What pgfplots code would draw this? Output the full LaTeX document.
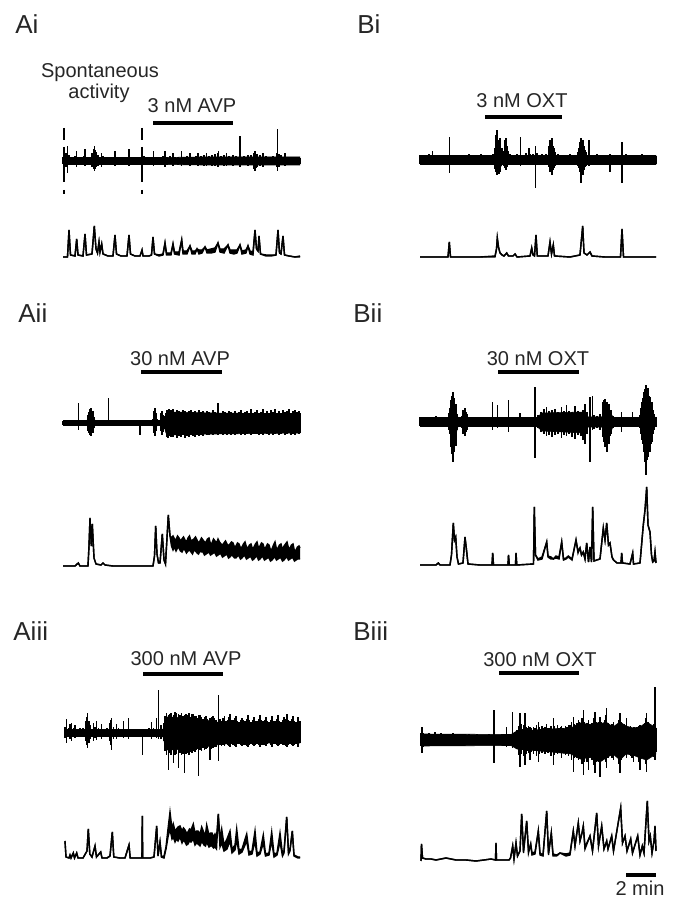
\documentclass[border=0pt]{standalone}
\usepackage{pgfplots}
\usepackage{pgfplotstable}
\pgfplotsset{compat=1.18}
\usepgfplotslibrary{fillbetween}
\usepackage{fontspec}
\setmainfont{Liberation Sans}

% ---------- raw traces: spike tables (t = px from trace start; lo/hi = excursion below/above baseline, px)
\pgfplotstableread{
t lo hi
0 -3 4
1 -12 10
3 -6 8
4.7 -12 15
6 -4 6
9 -3 4
12 -4 5
13.7 -6 10
15 -3 4
18 -3 3
21 -4 5
22 -5 12
23 -3 4
26 -3 3
29 -6 8
30.3 -8 12
31.3 -10 15
32.2 -8 11
33 -6 9
35 -5 6
38.7 -6 8
40 -4 5
44 -3 3
48 -3 4
52 -5 10
54 -3 3
58 -3 4
62 -3 3
66 -5 12
68 -3 3
72 -3 4
76 -4 4
78.5 -6 9
79.3 -8 13
81 -4 5
85 -3 4
90.3 -5 10
92 -3 4
96 -4 4
100 -4 5
102 -6 10
104 -4 4
107 -3 5
110 -5 8
112 -3 4
115 -4 4
118.7 -5 10
121 -4 4
124 -4 5
127 -5 8
130 -4 4
133 -4 5
135 -5 8
138 -4 5
141 -5 6
143.7 -5 8
146 -4 5
149 -5 6
152 -5 7
154.5 -6 8
155.3 -6 10
158 -4 5
161 -5 6
163.7 -5 8
166 -4 5
170 -5 6
173 -4 5
177 -6 25
181 -4 5
185 -5 6
188 -4 6
191 -8 8
192 -10 10
193 -7 7
194 -6 7
197 -5 6
200 -6 8
203 -4 5
207 -4 4
210 -4 5
213.5 -6 8
214.7 -10 32
216 -6 7
218 -4 6
222 -5 8
225 -4 4
229 -3 4
233 -4 4
237 -3 3
}\AiRaw
\pgfplotstableread{
t lo hi
0 -3.5 3.5
100 -3.5 3.5
140 -4 4
237 -4 4
}\AiCore

\pgfplotstableread{
t lo hi
0 -4 5
3 -5 4
6 -4 5
9 -4 6
12.7 -5 9
14 -4 5
17 -5 5
21 -4 5
25 -5 4
29.3 -13 23
33 -4 5
37 -5 4
41 -4 5
45 -5 5
49 -4 6
53 -4 5
57 -5 5
61 -4 6
65 -5 5
69 -4 5
73 -5 6
75 -9 12
76 -12 25
77 -15 30
78 -10 20
79 -14 18
80 -12 22
81 -6 10
82 -5 12
84 -6 9
85 -8 20
86 -10 22
87 -7 14
88 -5 9
90 -4 6
94 -5 5
97 -4 6
100.7 -6 23
104 -5 5
106 -4 7
109 -5 12
110 -5 6
113 -5 6
115.2 -28 14
117 -5 7
119 -5 5
122 -4 6
126 -5 6
129 -7 14
130 -12 20
131 -10 16
132 -15 22
133 -10 14
134 -8 12
135 -6 8
138 -5 6
142 -4 5
146 -5 5
150 -4 6
154 -5 5
158 -6 8
159 -8 12
160 -12 18
161 -23 22
162 -15 16
163 -15 20
164 -10 14
165 -7 10
166 -6 8
169 -6 20
173 -4 5
177 -5 6
181 -4 5
185 -5 5
190 -12 6
194 -4 5
198 -5 5
202 -23 18
206 -4 6
210 -5 5
214 -4 5
218 -5 5
222 -4 6
226 -5 5
230 -4 5
233 -5 5
236 -4 4
}\BiRaw
\pgfplotstableread{
t lo hi
0 -4.5 4.5
74 -4.5 4.5
77 -10 12
80 -8 10
82 -4.5 4.5
84 -4.5 4.5
86 -7 10
88 -4.5 4.5
129 -4.5 4.5
132 -9 10
134 -4.5 4.5
159 -4.5 4.5
161.5 -11 11
165 -4.5 4.5
236 -4.5 4.5
}\BiCore

\pgfplotstableread{
t lo hi
0 -2 2
5 -3 3
10 -2 2
15.3 -7 20
20 -2 2
24 -3 3
25 -8 8
26 -10 11
27 -12 14
28 -13 15
29 -10 9
30 -10 12
31 -5 6
34 -2 2
38 -2 3
42 -2 2
45.3 -3 25
50 -2 3
55 -2 2
60 -2 2
65 -2 3
70 -2 2
77 -12 2
82 -2 2
87 -2 3
90 -3 4
91 -10 12
92 -13 15
93 -8 10
94 -3 4
96 -3 3
98 -8 10
99 -12 12
100 -9 8
101 -6 7
103 -8 10
104 -14 13
105 -15 12
106 -13 14
107 -12 10
108 -14 13
110 -14 14
112 -12 11
114 -15 13
116 -13 12
118 -14 11
120 -12 13
122 -15 12
124 -13 10
126 -14 12
128 -12 13
130 -13 11
132 -14 12
134 -12 10
136 -13 13
138 -12 11
140 -13 12
142 -11 10
144 -12 12
146 -12 11
148 -11 10
150 -12 13
152 -11 11
155 -12 20
158 -11 10
160 -12 12
162 -11 11
164 -12 10
166 -11 12
168 -12 11
170 -10 10
172 -12 12
174 -11 10
176 -10 11
178 -12 13
180 -11 10
182 -12 11
184 -11 12
186 -10 10
188 -12 14
190 -11 10
192 -11 11
194 -10 13
196 -12 10
198 -11 11
200 -12 14
202 -10 10
204 -11 12
206 -12 10
208 -10 13
210 -12 11
212 -11 14
214 -10 10
216 -12 12
218 -11 10
220 -10 13
222 -12 11
224 -11 12
226 -10 14
228 -12 10
230 -11 12
232 -12 13
234 -10 11
236 -11 12
237 -10 10
}\AiiRaw
\pgfplotstableread{
t lo hi
0 -2.5 2.5
24 -2.5 2.5
27 -9 10
30 -7 8
32 -2.5 2.5
90 -2.5 2.5
92 -9 10
94 -2.5 2.5
97 -2.5 2.5
99 -7 7
101 -3 3
103 -10 9
106 -12 11
150 -11 10
237 -10 9
}\AiiCore

\pgfplotstableread{
t lo hi
0 -4 5
4 -5 4
8 -4 5
12 -5 5
16 -4 6
20 -5 4
24 -4 5
28 -5 5
29 -8 9
30 -12 14
31 -25 22
32 -32 26
33 -40 30
34 -30 24
35 -20 15
36 -24 18
37 -8 8
39 -5 5
42 -6 6
43 -12 12
44 -10 10
45 -14 14
46 -10 10
47 -8 8
48 -5 5
52 -4 5
56 -5 4
60 -4 5
64 -5 5
68 -4 5
72.7 -8 20
77.3 -6 17
82 -4 5
88.3 -10 22
93 -4 5
100 -5 9
105 -4 5
110 -5 5
115 -36 35
118 -6 7
121 -10 10
124 -12 13
126.7 -14 15
129 -13 11
132 -15 12
135 -13 13
138 -12 10
141.7 -16 15
144 -13 11
146.7 -14 17
149 -12 11
152 -15 10
155 -17 16
158 -13 11
161 -14 10
163 -18 12
165 -22 18
167 -12 10
170 -40 25
172.7 -8 26
174 -7 7
177 -6 6
180 -8 8
183 -15 20
184 -20 22
185 -25 23
186 -22 16
187 -30 20
188 -18 15
189 -22 18
190 -14 12
191 -12 12
193 -6 6
197 -5 5
201.7 -10 10
206 -4 5
210 -5 5
212.7 -5 10
217 -5 5
220 -6 7
221 -12 14
222 -18 20
223 -22 24
224 -30 30
225 -40 33
226 -53 37
227 -38 30
228 -35 34
229 -28 26
230 -30 25
231 -22 18
232 -20 20
233 -12 12
234 -8 8
236 -5 5
}\BiiRaw
\pgfplotstableread{
t lo hi
0 -4.5 4.5
29 -4.5 4.5
32 -20 17
36 -12 10
38 -4.5 4.5
43 -4.5 4.5
45 -10 10
47 -4.5 4.5
117 -4.5 4.5
122 -9 9
165 -11 10
168 -5 5
182 -5 5
186 -17 15
190 -12 11
193 -4.5 4.5
220 -4.5 4.5
224 -22 20
230 -18 16
234 -5 5
236 -4.5 4.5
}\BiiCore

\pgfplotstableread{
t lo hi
0 -5 6
1.7 -10 14
3.5 -4 5
5 -6 9
6.7 -8 10
8.5 -4 5
10 -5 8
12 -4 4
15 -3 5
18 -4 5
20.5 -8 12
21.5 -12 16
22.7 -15 20
24 -10 12
25 -6 8
28.3 -8 10
30 -5 6
31.7 -7 12
33.5 -4 5
36.7 -6 9
38.5 -3 4
42 -4 5
44.5 -8 10
45.5 -12 13
46.7 -17 15
48.5 -6 6
51.7 -6 9
53.5 -4 5
56 -3 4
58.3 -5 12
60 -4 4
63.3 -6 15
65 -3 4
69 -3 3
73 -3 3
77.3 -22 4
81 -3 3
84 -4 5
86.7 -6 11
88.5 -4 5
91.7 -5 15
93.3 -6 43
96 -6 8
98.5 -8 10
100 -18 17
101.5 -22 20
103.3 -37 18
104.5 -20 19
106 -22 20
108.3 -30 18
110 -22 21
111.5 -21 20
113.3 -35 19
115 -20 18
116.5 -22 20
118 -21 17
119.3 -40 18
121 -21 19
122.5 -20 18
124 -22 20
125.5 -19 16
127 -20 19
128.5 -18 19
130 -19 17
131.5 -17 17
133.3 -43 18
135 -17 18
136.5 -18 16
138 -15 14
139.5 -17 16
141 -16 17
142.5 -15 14
145 -27 15
146.5 -16 16
148 -15 17
149.5 -14 15
151 -14 13
153.3 -28 38
155 -12 14
156.5 -13 12
158 -12 15
159.5 -13 17
161 -11 12
162.5 -12 13
164 -13 16
165 -14 19
166.5 -11 13
168 -12 13
169.5 -13 15
171 -14 17
172.5 -11 12
174 -11 11
175.5 -12 13
177 -13 15
178.5 -12 13
180 -12 12
181.5 -13 14
183 -14 18
184.5 -12 13
186 -11 11
187.5 -12 13
189 -13 16
190.5 -12 12
192 -11 12
193.5 -12 14
195 -14 18
196.5 -12 13
198 -12 12
199.5 -12 13
201 -13 16
202.5 -11 12
204 -10 11
205.5 -12 13
207 -14 17
208.5 -11 12
210 -11 12
211.5 -12 14
213 -13 18
214.5 -12 12
216 -11 11
217.5 -12 13
219 -12 16
220.5 -13 14
222 -14 19
223.5 -12 13
225 -11 12
226.5 -12 14
228 -13 17
229.5 -12 12
231 -11 11
233 -14 16
235 -10 12
}\AiiiRaw
\pgfplotstableread{
t lo hi
0 -3.5 3.5
98 -3.5 3.5
101 -17 16
130 -16 15
150 -12 11
170 -10 10
235 -10 10
}\AiiiCore

\pgfplotstableread{
t lo hi
0 -6 7
1 -13 13
2 -7 7
5 -6 6
8 -5 7
11 -6 6
14 -5 8
17 -6 6
20 -5 7
24 -6 6
28 -5 6
32 -5 7
36 -6 5
40 -5 6
44 -5 5
48 -5 6
52 -4 5
56 -5 6
60 -5 5
64 -4 5
68 -5 6
73 -23 30
77 -5 5
81 -5 6
85.7 -7 13
89 -5 6
91.7 -8 28
94 -7 8
96 -9 10
97.5 -15 14
99 -27 27
100 -14 16
101 -10 11
102.5 -16 15
104 -25 27
105 -14 13
106 -11 12
107.5 -13 14
109 -20 13
110 -12 12
111 -10 10
112.5 -14 13
114 -11 12
115.5 -16 15
117.3 -22 18
118.5 -14 13
119.5 -11 11
121 -13 14
122 -10 12
124 -14 13
125.7 -12 16
127 -13 12
128 -11 12
130 -16 14
132.3 -25 22
133.5 -15 14
135 -11 11
136.5 -14 15
138 -12 12
139.5 -13 13
140.7 -18 14
142 -13 12
143 -10 11
144.5 -15 14
146 -12 13
147.5 -16 15
149 -14 15
150.5 -20 18
152.3 -32 23
153.5 -18 16
155 -15 14
156 -18 17
157.3 -20 20
158.5 -17 18
160 -16 15
161 -24 22
162.3 -35 30
163.5 -22 18
165 -17 14
166 -22 17
167.3 -30 20
168.5 -18 16
170 -15 15
171 -20 17
172.5 -25 22
174 -33 28
175.3 -22 18
176.5 -16 15
178 -22 18
179 -37 23
180.5 -20 18
182 -14 14
183.5 -18 20
184.5 -22 25
185.7 -28 32
187 -18 17
188 -13 13
189.5 -15 15
191 -18 16
192.3 -20 18
193.5 -15 14
195 -12 12
196.5 -16 15
198 -24 20
199 -33 27
200.5 -20 18
202 -14 13
203.5 -15 16
205.7 -18 22
207 -14 13
208 -12 11
209.5 -16 14
211 -18 12
212.3 -22 13
213.5 -16 13
215 -14 12
216.5 -16 13
218 -22 14
219 -30 15
220.5 -18 13
222 -13 12
223.5 -18 17
224.5 -24 22
225.7 -32 27
227 -18 18
228 -14 14
229.5 -16 15
231 -15 14
232.5 -17 16
234 -20 53
235 -12 12
}\BiiiRaw
\pgfplotstableread{
t lo hi
0 -6 6
90 -5.5 5.5
96 -9 9
130 -12 11
150 -14 12
157 -18 16
162 -20 18
167 -16 14
174 -20 18
179 -22 16
185 -18 18
192 -14 13
199 -20 18
205 -14 14
212 -15 12
219 -18 13
225.7 -20 18
235 -14 12
}\BiiiCore

% ---------- integrated traces (lo/hi = lower/upper edge of the line above baseline, px)
\pgfplotstableread{
t lo hi
0 0 0
4.5 0 0
6 27 27
7.5 2 2
12 1 1
13.7 18 18
15 2 2
20 1 1
22 23 23
23.5 2 2
29 3 3
31.3 31 31
33 8 8
34.5 4 4
36 15 15
37 5 5
38.7 13 13
40 3 3
45 1 1
50 1 1
52 22 22
53.5 3 3
58 1 1
64 1 1
66 22 22
67.5 3 3
72 1 1
77 1 1
79 7 7
80 1 1
86 1 1
88.5 2 2
90 20 20
91.5 3 3
96 1 2
100 2 3
102 14 14
103.5 2 4
108 2 4
110 13 13
111.5 3 5
116 2 5
118.7 17 17
120 3 6
124 3 6
127 11 11
129 3 6
132 3 6
134 8 8
136 3 7
139 4 7
142 10 10
144 4 7
148 4 8
152 5 9
155 14 14
157 5 8
161 4 8
165 12 12
167 4 7
171 3 7
174 4 7
177 12 12
179 3 6
183 4 7
185 11 11
187 3 6
190 2 5
192 27 27
193.5 8 8
195 6 6
196 21 21
197.5 3 3
203 1 2
208 1 2
213 2 2
215 27 27
216.5 4 4
218 3 3
220 21 21
221.5 2 2
226 1 1
232 0 0
237 0 1
}\AiInt

\pgfplotstableread{
t lo hi
0 0 0
28 0 0
29.3 15 15
30.5 0 0
60 0 0
75 0 1
76.5 8 8
77.3 19 19
78.5 10 10
80 4 4
82 2 2
84 1 1
86.7 4 4
88.5 1 1
93 1 1
95 3 3
97 0 0
110 1 1
111.7 9 9
113 2 2
114.5 1 1
116 22 22
117.3 1 1
128 1 1
130 15 15
131.5 3 3
133.3 12 12
134.5 1 1
150 0 0
160 2 2
162.7 31 31
164 4 4
167 2 2
170 5 5
172 1 1
185 0 0
200.5 0 0
202 28 28
203.5 0 0
236 0 0
}\BiInt

\pgfplotstableread{
t lo hi
0 0 0
12 0 0
15.3 3 3
17 0 0
25 0 0
26 20 20
27 48 48
28.3 20 20
29.3 42 42
31 8 8
33 2 2
38 1 1
40 3 3
42 1 1
50 0 0
70 0 0
90 0 0
91.5 10 10
92.7 40 40
94 12 12
95.5 3 3
97 3 3
99.3 32 32
101 6 6
102.5 2 2
105.3 51 51
107 30 30
108.5 20 28
110 16 30
111.5 19 27
113 15 26
114.5 18 30
116 18 28
117.5 15 25
119 14 27
120.5 17 29
122 16 26
123.5 13 24
125 15 28
126.5 16 30
128 14 25
129.5 12 26
131 16 27
132.5 15 29
134 13 26
135.5 12 23
137 15 25
138.5 14 28
140 14 26
141.5 11 24
143 12 24
144.5 13 27
146 14 28
147.5 11 22
149 12 23
150.5 13 27
152 13 25
153.5 10 23
155 11 27
156.5 12 24
158 12 22
159.5 9 21
161 10 23
162.5 11 25
164 12 22
165.5 8 20
167 9 22
168.5 11 24
170 10 23
171.5 8 19
173 8 20
174.5 10 23
176 10 22
177.5 7 18
179 8 19
180.5 10 22
182 10 24
183.5 7 19
185 8 18
186.5 9 21
188 9 22
189.5 6 17
191 7 19
192.5 9 22
194 10 24
195.5 6 18
197 7 20
198.5 9 23
200 9 22
201.5 6 17
203 7 19
204.5 8 22
206 8 21
207.5 5 16
209 6 17
210.5 8 21
212 9 24
213.5 6 17
215 7 18
216.5 8 21
218 8 22
219.5 5 16
221 6 20
222.5 8 22
224 9 24
225.5 6 18
227 7 18
228.5 8 21
230 8 22
231.5 5 15
233 6 16
234.5 7 19
236 7 20
237 7 18
}\AiiInt

\pgfplotstableread{
t lo hi
0 0 0
16 0 0
18.3 2 2
20 0 0
30 0 0
31.5 10 10
33.3 42 42
34.5 25 25
35.7 28 28
37 8 8
38.5 1 1
43 2 2
45 28 28
46.5 15 15
48 1 1
60 0 0
72 0 0
72.7 12 12
73.5 0 0
88 0 0
88.5 10 10
89.3 0 0
95.5 0 0
96 12 12
96.8 0 0
113.5 1 1
114.3 58 58
115.5 10 10
118 5 6
122 6 8
126.7 23 23
128 8 9
131 6 8
133.3 6 6
136 7 9
139 6 8
141.7 23 23
143.5 5 6
146 6 7
148.3 8 9
152 5 6
156 25 25
158 12 14
160 17 17
161.5 10 10
163.3 13 13
165 6 6
166.7 22 22
168.5 3 3
170 18 18
171.5 3 3
172.7 58 58
174 4 4
176.7 5 5
180 6 6
183.3 37 37
185 25 25
186.7 42 42
188.5 20 20
190 22 22
192 8 8
193.5 5 5
197 2 2
201 2 2
201.7 12 12
202.5 2 2
210 1 1
212.7 12 12
213.5 1 1
220 2 2
223.3 40 40
225 55 55
226.7 78 78
228 40 40
230 33 33
231.5 10 10
232.7 3 3
234 4 4
235 13 13
236 2 2
}\BiiInt

\pgfplotstableread{
t lo hi
0 18 18
1 2 2
4 1 1
5 4 4
6 1 1
8.3 6 6
9.5 1 1
11.7 6 6
13 1 1
18 1 1
22 8 8
23.3 30 30
24.8 5 5
27 2 2
30 13 13
31.5 2 2
35.7 7 7
37 1 1
42 1 1
45 3 3
47.3 27 27
48.8 2 2
55 1 1
60 1 1
64 14 14
65.2 1 1
75 1 1
76.9 1 1
77.3 43 43
77.7 1 1
85 1 1
89 2 2
91.7 33 33
93 3 3
95 17 17
96.5 2 2
99 1 3
101 10 12
103 22 30
105 30 47
107 20 30
108.3 22 35
110 17 28
111.5 20 30
113 18 32
115 22 33
117 16 28
118.5 19 31
120 17 29
121.5 14 26
123 15 27
124.5 18 30
126 17 29
128.3 20 35
130 14 26
131.5 16 28
133 15 28
135 13 25
136.7 18 32
139 14 26
140.5 13 25
141.7 17 34
144 12 24
145.5 13 26
147 13 26
148.5 11 22
150 12 25
151.5 10 21
153.3 45 45
155 12 20
156.7 16 30
159 8 14
162 10 20
165 18 28
167 6 10
170 9 14
171.7 20 30
174 5 9
177 7 10
181.7 18 25
184 4 7
187 5 8
190 18 28
192 3 6
195 5 7
198.3 16 24
200.5 3 5
204 4 6
206.7 18 27
209 2 5
212 4 6
215 17 26
217.5 3 5
219 6 8
221.7 42 42
223.5 5 7
225 8 10
227.3 28 28
229 3 4
233 1 2
235 1 2
}\AiiiInt

\pgfplotstableread{
t lo hi
0 0 0
0.5 17 17
1.5 3 3
5 2 2
10 2 2
15 1 1
20 2 2
25 3 3
30 2 2
35 1 1
45 1 1
55 0 0
63 1 1
70 2 2
74.5 1 1
75 18 18
75.5 1 1
82 1 1
88 1 1
89.5 3 3
91.7 15 15
93 2 2
95 18 18
96.5 5 5
99 10 10
100.7 47 47
102.5 8 10
105.7 40 40
107.5 8 10
109.7 17 17
111 6 8
114 7 9
117.3 30 30
119 6 8
122 5 6
125.7 50 50
127.5 6 8
130.3 28 28
132 5 7
135.7 5 6
139 8 8
145 5 7
149 6 8
152.3 30 30
154 15 15
157.3 38 38
159 20 20
161 28 28
162.3 35 35
164 12 14
169 25 25
171.5 10 10
175.7 48 48
177.5 15 15
180.7 35 35
183 12 12
185.7 20 20
187 12 12
190.7 25 25
192.5 10 10
199.7 53 53
201.5 18 18
204 25 25
206 10 10
209.7 22 22
211.5 8 8
216.7 25 25
219 6 6
221.3 15 15
223 8 8
226.3 60 60
228 20 20
229.3 25 25
231 8 8
233 20 20
234 35 35
235 10 10
}\BiiiInt

% integrated trace: #1 table, #2 x start, #3 baseline y, #4 name
\newcommand{\inttrace}[4]{%
  \addplot[name path=#4u, draw=black, line width=0.7pt, mark=none]
    table[x expr=\thisrow{t}+#2, y expr=#3-\thisrow{hi}] {#1};
  \addplot[name path=#4l, draw=black, line width=0.7pt, mark=none]
    table[x expr=\thisrow{t}+#2, y expr=#3-\thisrow{lo}] {#1};
  \addplot[black] fill between[of=#4u and #4l];
}
% raw trace: #1 core band table, #2 spike table, #3 x start, #4 baseline y, #5 name
\newcommand{\rawtrace}[5]{%
  \addplot[name path=#5u, draw=black, line width=0.3pt, mark=none]
    table[x expr=\thisrow{t}+#3, y expr=#4-\thisrow{hi}] {#1};
  \addplot[name path=#5l, draw=black, line width=0.3pt, mark=none]
    table[x expr=\thisrow{t}+#3, y expr=#4-\thisrow{lo}] {#1};
  \addplot[black] fill between[of=#5u and #5l];
  \addplot[draw=none, mark=none,
    error bars/.cd, y dir=both, y explicit, error mark=none,
    error bar style={draw=black, line width=0.55pt}]
    table[x expr=\thisrow{t}+#3, y expr=#4,
          y error plus expr=-\thisrow{lo}, y error minus expr=\thisrow{hi}] {#2};
}

\begin{document}
\begin{tikzpicture}
\begin{axis}[
  at={(0,0)}, anchor=south west,
  width=338pt, height=450pt, scale only axis,
  xmin=0, xmax=676, ymin=0, ymax=900, y dir=reverse,
  hide axis, clip=false,
  unbounded coords=jump,
]
% panel letters
\node[anchor=base west, inner sep=0pt, text=black!85, font=\fontsize{13}{15}\selectfont] at (axis cs:15,34) {Ai};
\node[anchor=base west, inner sep=0pt, text=black!85, font=\fontsize{13}{15}\selectfont] at (axis cs:357,34) {Bi};
\node[anchor=base west, inner sep=0pt, text=black!85, font=\fontsize{13}{15}\selectfont] at (axis cs:18,323) {Aii};
\node[anchor=base west, inner sep=0pt, text=black!85, font=\fontsize{13}{15}\selectfont] at (axis cs:353,323) {Bii};
\node[anchor=base west, inner sep=0pt, text=black!85, font=\fontsize{13}{15}\selectfont] at (axis cs:13,641) {Aiii};
\node[anchor=base west, inner sep=0pt, text=black!85, font=\fontsize{13}{15}\selectfont] at (axis cs:353,641) {Biii};

% drug labels
\node[anchor=base, inner sep=0pt, text=black!85, font=\fontsize{10}{12}\selectfont] at (axis cs:100,78) {Spontaneous};
\node[anchor=base, inner sep=0pt, text=black!85, font=\fontsize{10}{12}\selectfont] at (axis cs:99,99) {activity};
\node[anchor=base, inner sep=0pt, text=black!85, font=\fontsize{10}{12}\selectfont] at (axis cs:192,113) {3 nM AVP};
\node[anchor=base, inner sep=0pt, text=black!85, font=\fontsize{10}{12}\selectfont] at (axis cs:522,108) {3 nM OXT};
\node[anchor=base, inner sep=0pt, text=black!85, font=\fontsize{10}{12}\selectfont] at (axis cs:180,366) {30 nM AVP};
\node[anchor=base, inner sep=0pt, text=black!85, font=\fontsize{10}{12}\selectfont] at (axis cs:538,366) {30 nM OXT};
\node[anchor=base, inner sep=0pt, text=black!85, font=\fontsize{10}{12}\selectfont] at (axis cs:186,666) {300 nM AVP};
\node[anchor=base, inner sep=0pt, text=black!85, font=\fontsize{10}{12}\selectfont] at (axis cs:540,667) {300 nM OXT};
\node[anchor=base, inner sep=0pt, text=black!85, font=\fontsize{10}{12}\selectfont] at (axis cs:640,896) {2 min};

% application bars and scale bar
\addplot[black, line width=2pt, mark=none] coordinates {(153,123) (233,123)};
\addplot[black, line width=2pt, mark=none] coordinates {(485,117) (562,117)};
\addplot[black, line width=2pt, mark=none] coordinates {(141,372) (222,372)};
\addplot[black, line width=2pt, mark=none] coordinates {(498,372) (579,372)};
\addplot[black, line width=2pt, mark=none] coordinates {(143,674) (223,674)};
\addplot[black, line width=2pt, mark=none] coordinates {(499,673) (579,673)};
\addplot[black, line width=2pt, mark=none] coordinates {(626,875) (656,875)};

% dashed markers (spontaneous activity window)
\addplot[black, line width=1.2pt, mark=none] coordinates {(64,128) (64,140) (64,nan) (64,147) (64,182) (64,nan) (64,190) (64,194)};
\addplot[black, line width=1.2pt, mark=none] coordinates {(142,128) (142,140) (142,nan) (142,147) (142,182) (142,nan) (142,190) (142,194)};

% traces
\rawtrace{\AiCore}{\AiRaw}{63}{161}{air}
\inttrace{\AiInt}{63}{257}{aint}
\rawtrace{\BiCore}{\BiRaw}{420}{160}{bir}
\inttrace{\BiInt}{420}{257}{bint}
\rawtrace{\AiiCore}{\AiiRaw}{63}{423}{aiir}
\inttrace{\AiiInt}{63}{566}{aiint}
\rawtrace{\BiiCore}{\BiiRaw}{420}{422}{biir}
\inttrace{\BiiInt}{420}{565}{biint}
\rawtrace{\AiiiCore}{\AiiiRaw}{65}{733}{aiiir}
\inttrace{\AiiiInt}{65}{859}{aiiint}
\rawtrace{\BiiiCore}{\BiiiRaw}{421}{740}{biiir}
\inttrace{\BiiiInt}{421}{861}{biiint}
\end{axis}
\pgfresetboundingbox
\useasboundingbox (0,0) rectangle (338pt,450pt);
\end{tikzpicture}
\end{document}
